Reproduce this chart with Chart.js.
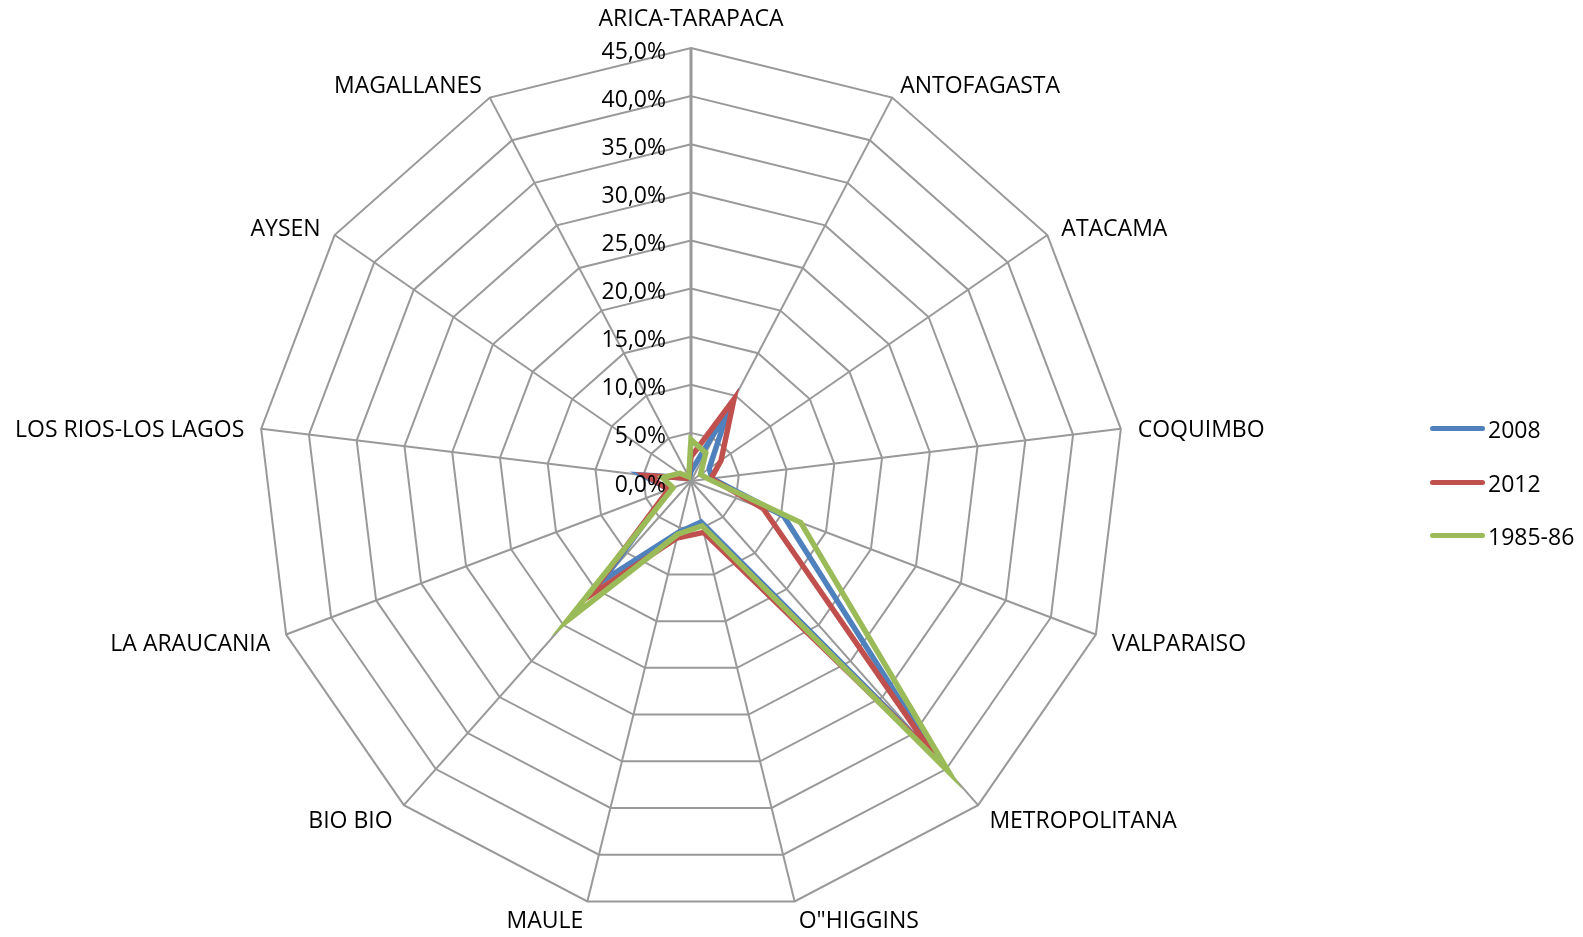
<!DOCTYPE html>
<html>
<head>
<meta charset="utf-8">
<script src="https://cdn.jsdelivr.net/npm/chart.js@4.4.1/dist/chart.umd.min.js"></script>
<style>
  body { margin: 0; background: #fff; }
  #wrap { position: absolute; left: 0; top: 0; width: 1583px; height: 937px; }
  #legend { position: absolute; left: 1430px; top: 0; font: 23px "Open Sans", sans-serif; color: #000; }
  .item { position: absolute; left: 0; white-space: nowrap; }
  .item span.line { position: absolute; left: 0; width: 55px; height: 5px; border-radius: 3px; }
  .item span.txt { position: absolute; left: 58px; line-height: 1; }
</style>
</head>
<body>
<div id="wrap"><canvas id="chart"></canvas></div>
<div id="legend"></div>
<script>
const regions = ['ARICA-TARAPACA', 'ANTOFAGASTA', 'ATACAMA', 'COQUIMBO', 'VALPARAISO', 'METROPOLITANA',
  'O"HIGGINS', 'MAULE', 'BIO BIO', 'LA ARAUCANIA', 'LOS RIOS-LOS LAGOS', 'AYSEN', 'MAGALLANES'];

const seriesNames = ['2008', '2012', '1985-86'];
const values2008 = [1.0, 8.4, 2.3, 2.2, 10.3, 38.5, 4.4, 5.5, 13.9, 2.4, 5.1, 0.6, 0.4];
const values2012 = [2.5, 9.6, 3.8, 2.1, 8.0, 38.0, 5.5, 6.1, 16.0, 2.5, 4.7, 0.5, 0.5];
const values1985 = [4.3, 3.3, 1.2, 1.8, 12.2, 40.4, 4.8, 5.7, 19.4, 2.0, 3.0, 1.4, 0.5];

const tickValues = [0, 5, 10, 15, 20, 25, 30, 35, 40, 45];

const colors = ['#4F81BD', '#C0504D', '#9BBB59'];
const allValues = [values2008, values2012, values1985];

// labels round the web and the value ticks, placed like the original
const labelPlugin = {
  id: 'webLabels',
  afterDraw(chart) {
    const s = chart.scales.r;
    const ctx = chart.ctx;
    ctx.save();
    ctx.font = '23px "Open Sans"';
    ctx.fillStyle = '#000';
    ctx.textBaseline = 'middle';

    chart.data.labels.forEach((lab, i) => {
      const p = s.getPointPosition(i, s.drawingArea + 17);
      const sin = Math.sin(s.getIndexAngle(i));
      let y = p.y + 4;
      if (Math.abs(sin) < 0.05) {
        ctx.textAlign = 'center';
        y = p.y - 12;
      } else {
        ctx.textAlign = sin > 0 ? 'left' : 'right';
      }
      ctx.fillText(lab, p.x, y);
    });

    ctx.textAlign = 'right';
    tickValues.forEach(v => {
      const y = s.yCenter - s.getDistanceFromCenterForValue(v);
      ctx.fillText(v.toFixed(1).replace('.', ',') + '%', s.xCenter - 25, y + 4);
    });
    ctx.restore();
  }
};

const datasets = seriesNames.map((name, k) => ({
  label: name,
  data: allValues[k],
  borderColor: colors[k],
  backgroundColor: colors[k],
  borderWidth: 5.5,
  pointRadius: 0,
  fill: false,
  tension: 0,
  order: 3 - k
}));

new Chart(document.getElementById('chart'), {
  type: 'radar',
  data: { labels: regions, datasets: datasets },
  options: {
    responsive: true,
    maintainAspectRatio: false,
    animation: false,
    layout: { padding: { top: 48, bottom: 22, left: 0, right: 200 } },
    plugins: { legend: { display: false }, tooltip: { enabled: false } },
    scales: {
      r: {
        min: 0,
        max: 45,
        ticks: { stepSize: 5, display: false },
        grid: { color: '#999999', lineWidth: 2 },
        angleLines: { color: '#999999', lineWidth: ctx => ctx.index === 0 ? 3 : 2 },
        pointLabels: { display: false }
      }
    }
  },
  plugins: [labelPlugin]
});

// legend
const legend = document.getElementById('legend');
seriesNames.forEach((name, k) => {
  const item = document.createElement('div');
  item.className = 'item';
  item.style.top = (428 + k * 53.5) + 'px';
  item.innerHTML = '<span class="line" style="top:-2px;background:' + colors[k] + '"></span>' +
    '<span class="txt" style="top:-10px">' + name + '</span>';
  legend.appendChild(item);
});
</script>
</body>
</html>
